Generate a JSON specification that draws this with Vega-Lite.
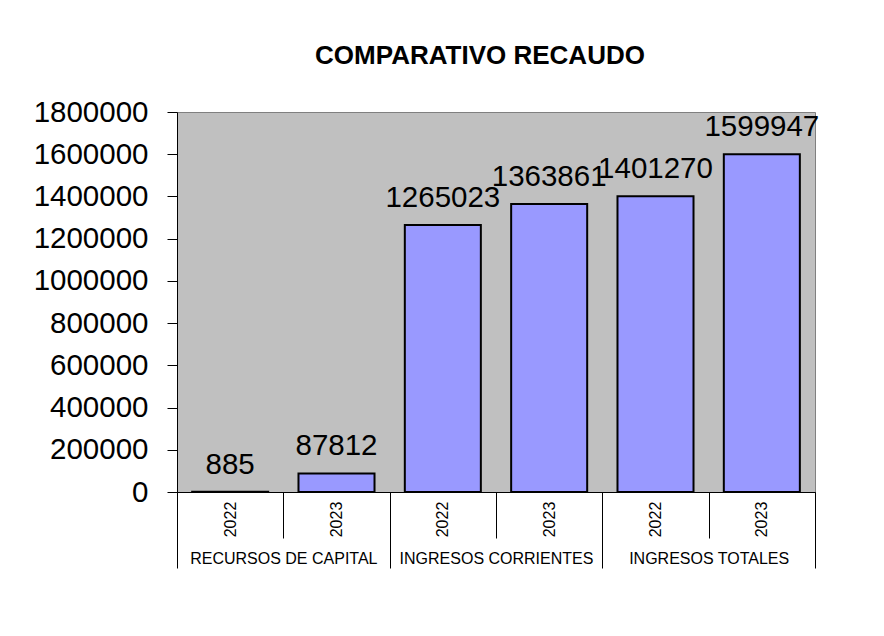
{
  "$schema": "https://vega.github.io/schema/vega-lite/v6.json",
  "autosize": {"type": "none"},
  "width": 638,
  "height": 380,
  "padding": {"left": 177, "top": 112, "right": 69, "bottom": 144},
  "background": "white",
  "config": {
    "view": {"fill": "#C0C0C0", "stroke": "#808080", "strokeWidth": 1},
    "font": "Liberation Sans"
  },
  "title": {
    "text": "COMPARATIVO RECAUDO",
    "fontSize": 26,
    "fontWeight": "bold",
    "color": "black",
    "font": "Liberation Sans",
    "anchor": "middle",
    "frame": "group",
    "dx": -16,
    "offset": 7,
    "baseline": "alphabetic"
  },
  "data": {
    "values": [
      {"grupo": "RECURSOS DE CAPITAL", "anio": "2022", "clave": "RC-2022", "valor": 885},
      {"grupo": "RECURSOS DE CAPITAL", "anio": "2023", "clave": "RC-2023", "valor": 87812},
      {"grupo": "INGRESOS CORRIENTES", "anio": "2022", "clave": "IC-2022", "valor": 1265023},
      {"grupo": "INGRESOS CORRIENTES", "anio": "2023", "clave": "IC-2023", "valor": 1363861},
      {"grupo": "INGRESOS TOTALES", "anio": "2022", "clave": "IT-2022", "valor": 1401270},
      {"grupo": "INGRESOS TOTALES", "anio": "2023", "clave": "IT-2023", "valor": 1599947}
    ]
  },
  "layer": [
    {
      "mark": {"type": "bar", "width": {"band": 0.715}, "fill": "#9999FF", "stroke": "black", "strokeWidth": 2},
      "encoding": {
        "x": {
          "field": "clave", "type": "nominal", "sort": null,
          "scale": {"paddingInner": 0, "paddingOuter": 0},
          "axis": {
            "orient": "bottom", "title": null, "tickBand": "extent", "tickSize": 46,
            "tickColor": "black", "domainColor": "black", "labelAngle": -90,
            "labelAlign": "center", "labelBaseline": "middle", "labelPadding": -19,
            "labelFontSize": 16, "labelColor": "black", "labelFont": "Liberation Sans",
            "labelOverlap": false, "labelExpr": "slice(datum.label, -4)"
          }
        },
        "y": {
          "field": "valor", "type": "quantitative",
          "scale": {"domain": [0, 1800000]},
          "axis": {
            "values": [0, 200000, 400000, 600000, 800000, 1000000, 1200000, 1400000, 1600000, 1800000],
            "format": "d", "title": null, "grid": false, "tickSize": 10,
            "tickColor": "black", "domainColor": "black", "labelFontSize": 29.5,
            "labelColor": "black", "labelPadding": 19, "labelFont": "Liberation Sans",
            "labelOverlap": false
          }
        }
      }
    },
    {
      "mark": {"type": "text", "baseline": "alphabetic", "dy": -18, "fontSize": 29.5, "color": "black", "font": "Liberation Sans"},
      "encoding": {
        "x": {"field": "clave", "type": "nominal", "sort": null, "scale": {"paddingInner": 0, "paddingOuter": 0}, "axis": null},
        "y": {"field": "valor", "type": "quantitative"},
        "text": {"field": "valor", "type": "quantitative", "format": "d"}
      }
    },
    {
      "mark": {"type": "bar", "opacity": 0},
      "encoding": {
        "x": {
          "field": "grupo", "type": "nominal", "sort": null,
          "scale": {"paddingInner": 0, "paddingOuter": 0},
          "axis": {
            "orient": "bottom", "title": null, "tickBand": "extent", "tickSize": 76,
            "tickColor": "black", "domain": false, "labelAngle": 0,
            "labelBaseline": "middle", "labelPadding": -10, "labelFontSize": 16,
            "labelColor": "black", "labelFont": "Liberation Sans", "labelLimit": 0,
            "labelOverlap": false
          }
        }
      }
    }
  ],
  "resolve": {"scale": {"x": "independent"}}
}
